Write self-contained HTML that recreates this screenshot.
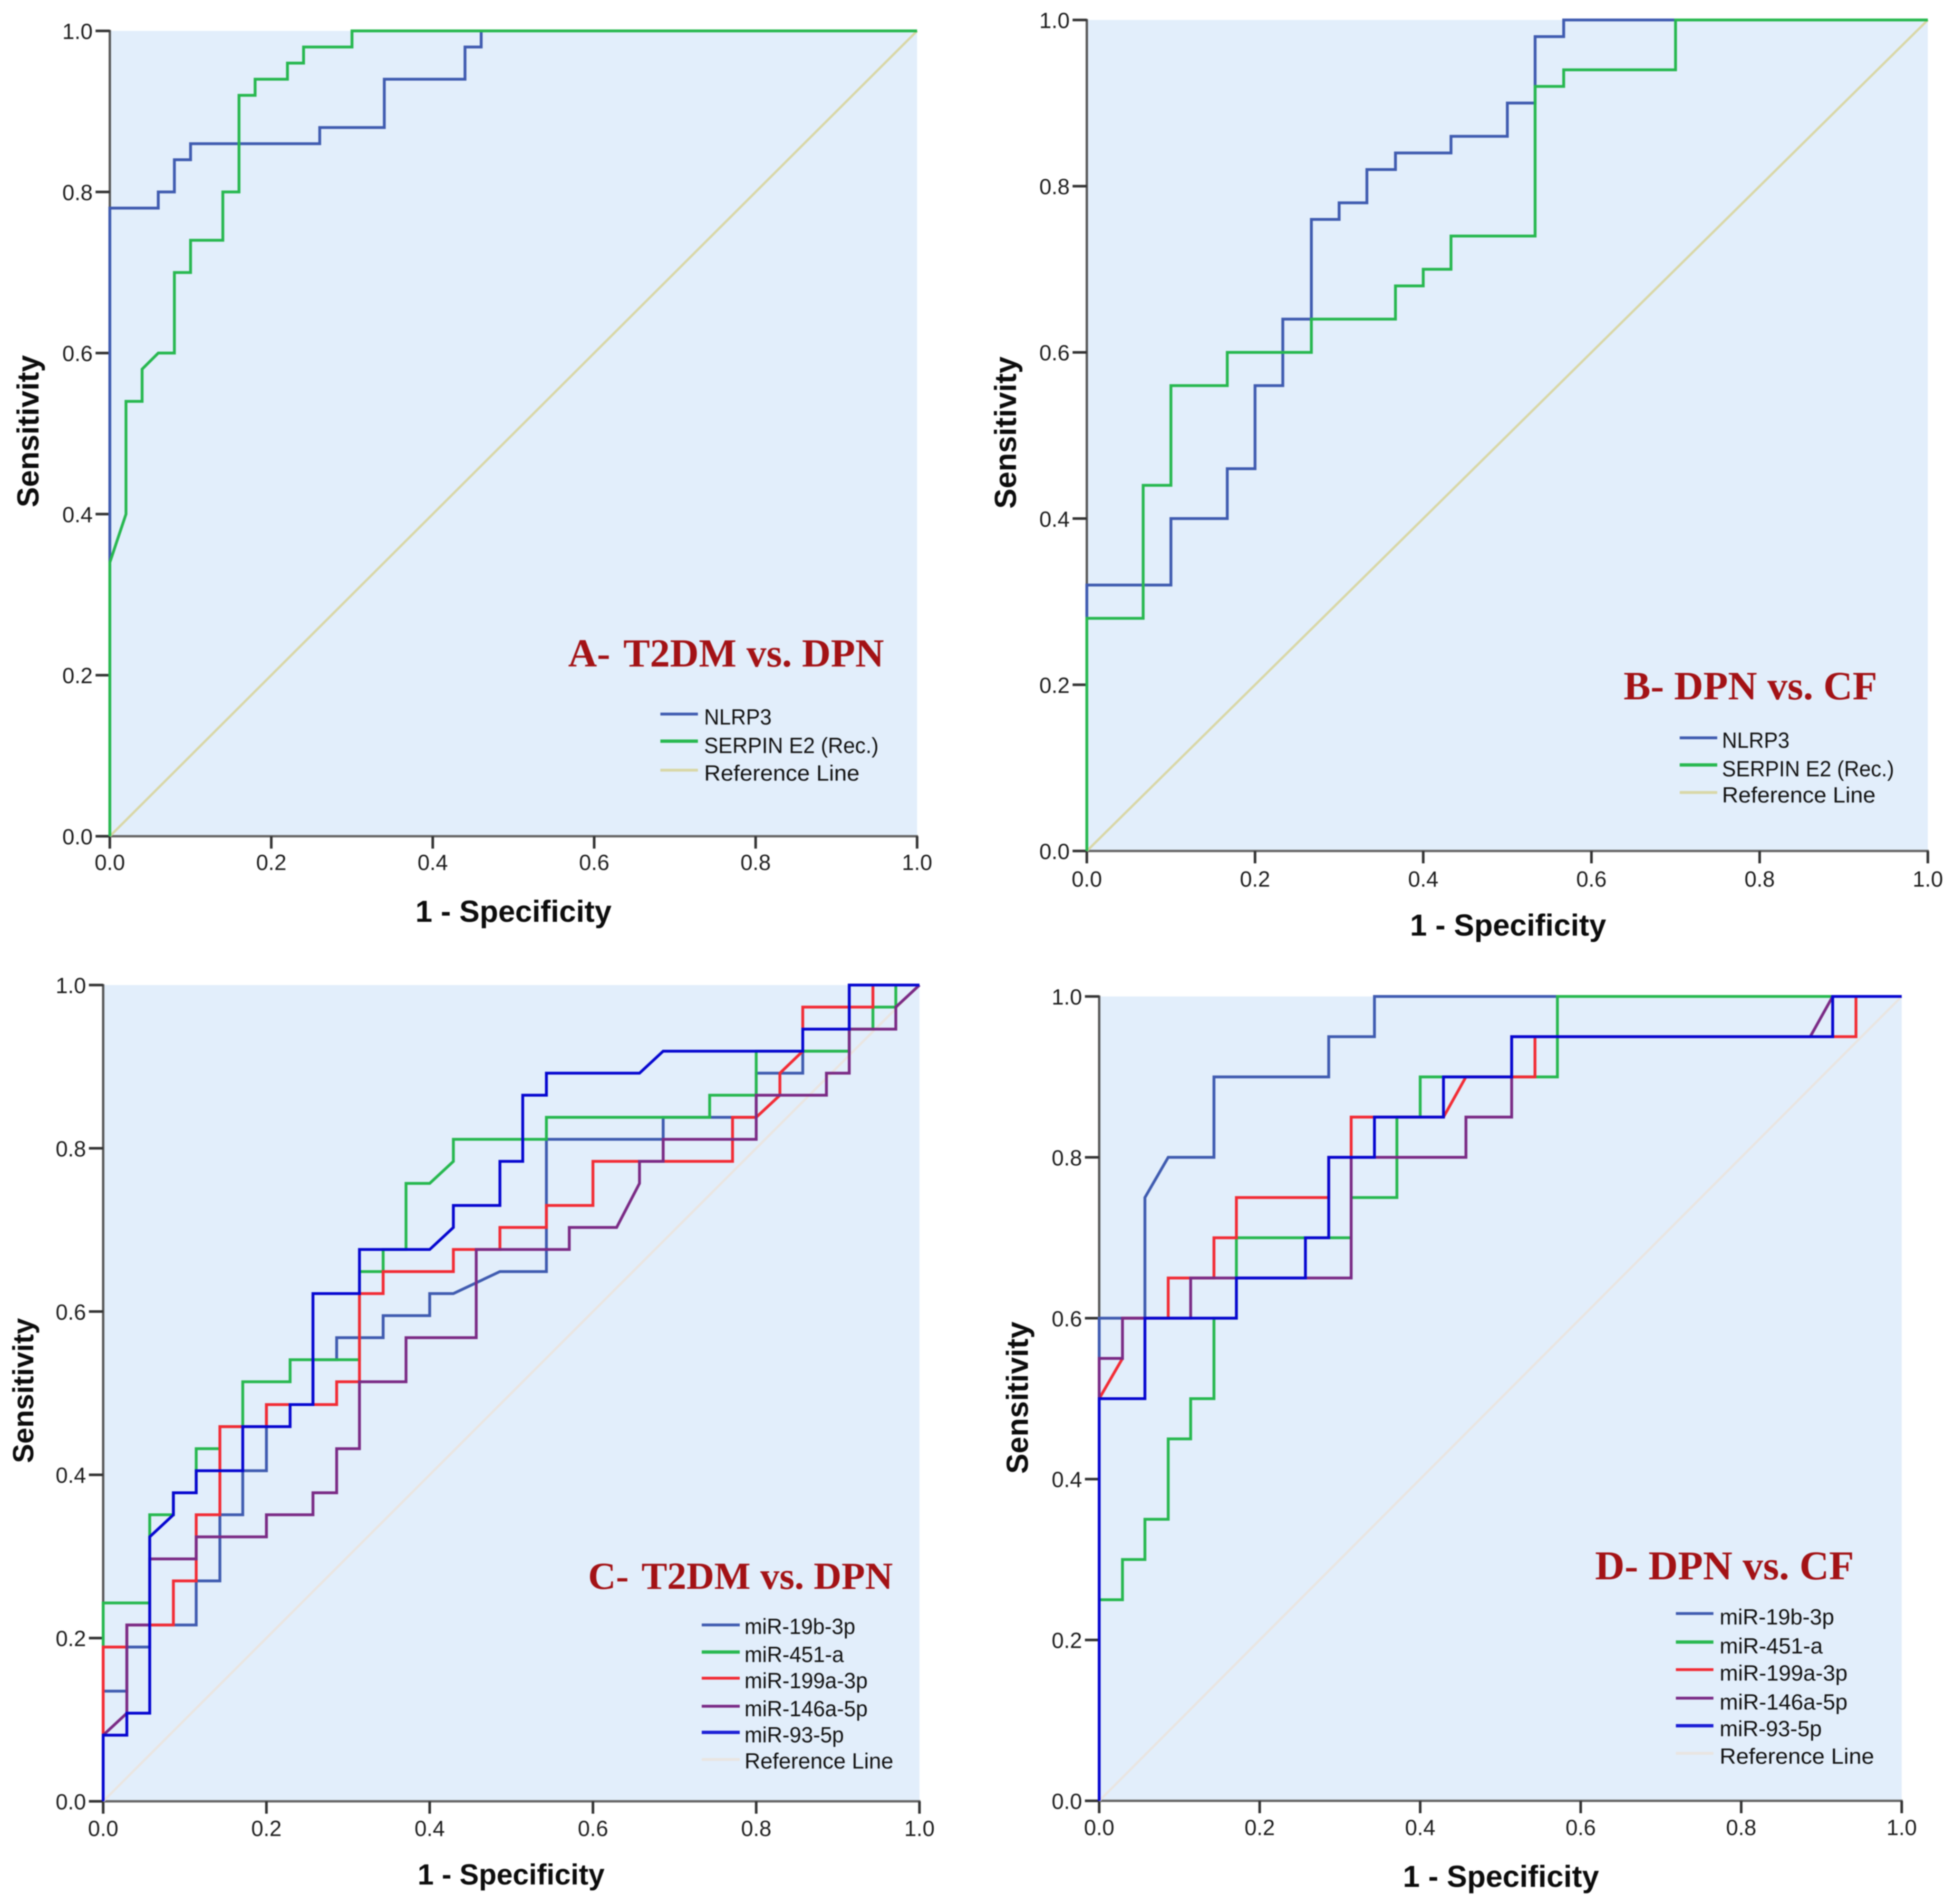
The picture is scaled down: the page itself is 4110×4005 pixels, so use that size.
<!DOCTYPE html>
<html lang="en">
<head>
<meta charset="utf-8">
<title>ROC curves</title>
<style>
html,body{margin:0;padding:0;background:#fff;width:4110px;height:4005px;overflow:hidden}
svg{display:block;filter:blur(1.4px)}
text{font-family:"Liberation Sans",sans-serif;fill:#1c1c1c}
.tick{font-size:46px}
.axt{font-size:64px;font-weight:bold;fill:#0c0c0c}
.leg{font-size:46px;fill:#111}
.ttl{font-family:"Liberation Serif",serif;font-weight:bold;font-size:84px;fill:#a31215;white-space:pre}
</style>
</head>
<body>
<svg id="figure" xmlns="http://www.w3.org/2000/svg" width="4110" height="4005" viewBox="0 0 4110 4005">
  <g id="panel-a">
    <g class="marks"></g>
    <text class="ttl" x="1195" y="1402">A- <tspan dx="8">T2DM vs. DPN</tspan></text>
    <text class="axt" x="1080" y="1939" text-anchor="middle">1 - Specificity</text>
    <text class="axt" transform="translate(81 907) rotate(-90)" text-anchor="middle">Sensitivity</text>
    <g>
      <line x1="1389" x2="1468" y1="1502" y2="1502" stroke="#3f5bb0" stroke-width="6"/>
      <text class="leg" x="1481" y="1524" textLength="142" lengthAdjust="spacingAndGlyphs">NLRP3</text>
      <line x1="1389" x2="1468" y1="1559" y2="1559" stroke="#27b84f" stroke-width="7"/>
      <text class="leg" x="1481" y="1584" textLength="367" lengthAdjust="spacingAndGlyphs">SERPIN E2 (Rec.)</text>
      <line x1="1389" x2="1468" y1="1620" y2="1620" stroke="#d9d7a6" stroke-width="6"/>
      <text class="leg" x="1481" y="1642" textLength="327" lengthAdjust="spacingAndGlyphs">Reference Line</text>
    </g>
  </g>
  <g id="panel-b">
    <g class="marks"></g>
    <text class="ttl" x="3415" y="1471" style="font-size:85px">B- DPN vs. CF</text>
    <text class="axt" x="3172" y="1968" text-anchor="middle">1 - Specificity</text>
    <text class="axt" transform="translate(2137 910) rotate(-90)" text-anchor="middle">Sensitivity</text>
    <g>
      <line x1="3533" x2="3612" y1="1552" y2="1552" stroke="#3f5bb0" stroke-width="6"/>
      <text class="leg" x="3622" y="1573" textLength="142" lengthAdjust="spacingAndGlyphs">NLRP3</text>
      <line x1="3533" x2="3612" y1="1609" y2="1609" stroke="#27b84f" stroke-width="7"/>
      <text class="leg" x="3622" y="1633" textLength="362" lengthAdjust="spacingAndGlyphs">SERPIN E2 (Rec.)</text>
      <line x1="3533" x2="3612" y1="1667" y2="1667" stroke="#d9d7a6" stroke-width="6"/>
      <text class="leg" x="3622" y="1688" textLength="323" lengthAdjust="spacingAndGlyphs">Reference Line</text>
    </g>
  </g>
  <g id="panel-c">
    <g class="marks"></g>
    <text class="ttl" x="1237" y="3342" style="font-size:81px">C- <tspan dx="8">T2DM vs. DPN</tspan></text>
    <text class="axt" x="1075" y="3964" text-anchor="middle" style="font-size:61px">1 - Specificity</text>
    <text class="axt" transform="translate(70 2925) rotate(-90)" text-anchor="middle" style="font-size:61px">Sensitivity</text>
    <g>
      <line x1="1476" x2="1556" y1="3418" y2="3418" stroke="#3f5bb0" stroke-width="6"/>
      <text class="leg" x="1566" y="3437" textLength="233" lengthAdjust="spacingAndGlyphs">miR-19b-3p</text>
      <line x1="1476" x2="1556" y1="3475" y2="3475" stroke="#27b84f" stroke-width="7"/>
      <text class="leg" x="1566" y="3496" textLength="209" lengthAdjust="spacingAndGlyphs">miR-451-a</text>
      <line x1="1476" x2="1556" y1="3530" y2="3530" stroke="#f22b34" stroke-width="6"/>
      <text class="leg" x="1566" y="3551" textLength="259" lengthAdjust="spacingAndGlyphs">miR-199a-3p</text>
      <line x1="1476" x2="1556" y1="3589" y2="3589" stroke="#7a2a85" stroke-width="6"/>
      <text class="leg" x="1566" y="3610" textLength="259" lengthAdjust="spacingAndGlyphs">miR-146a-5p</text>
      <line x1="1476" x2="1556" y1="3644" y2="3644" stroke="#1c1fd6" stroke-width="7"/>
      <text class="leg" x="1566" y="3665" textLength="209" lengthAdjust="spacingAndGlyphs">miR-93-5p</text>
      <line x1="1476" x2="1556" y1="3701" y2="3701" stroke="#e9e5e1" stroke-width="6"/>
      <text class="leg" x="1566" y="3720" textLength="313" lengthAdjust="spacingAndGlyphs">Reference Line</text>
    </g>
  </g>
  <g id="panel-d">
    <g class="marks"></g>
    <text class="ttl" x="3355" y="3322" style="font-size:86px">D- DPN vs. CF</text>
    <text class="axt" x="3157" y="3969" text-anchor="middle">1 - Specificity</text>
    <text class="axt" transform="translate(2162 2940) rotate(-90)" text-anchor="middle">Sensitivity</text>
    <g>
      <line x1="3525" x2="3604" y1="3394" y2="3394" stroke="#3f5bb0" stroke-width="6"/>
      <text class="leg" x="3617" y="3417" textLength="241" lengthAdjust="spacingAndGlyphs">miR-19b-3p</text>
      <line x1="3525" x2="3604" y1="3454" y2="3454" stroke="#27b84f" stroke-width="7"/>
      <text class="leg" x="3617" y="3478" textLength="217" lengthAdjust="spacingAndGlyphs">miR-451-a</text>
      <line x1="3525" x2="3604" y1="3512" y2="3512" stroke="#f22b34" stroke-width="6"/>
      <text class="leg" x="3617" y="3535" textLength="269" lengthAdjust="spacingAndGlyphs">miR-199a-3p</text>
      <line x1="3525" x2="3604" y1="3572" y2="3572" stroke="#7a2a85" stroke-width="6"/>
      <text class="leg" x="3617" y="3596" textLength="269" lengthAdjust="spacingAndGlyphs">miR-146a-5p</text>
      <line x1="3525" x2="3604" y1="3630" y2="3630" stroke="#1c1fd6" stroke-width="7"/>
      <text class="leg" x="3617" y="3652" textLength="215" lengthAdjust="spacingAndGlyphs">miR-93-5p</text>
      <line x1="3525" x2="3604" y1="3688" y2="3688" stroke="#e9e5e1" stroke-width="6"/>
      <text class="leg" x="3617" y="3710" textLength="325" lengthAdjust="spacingAndGlyphs">Reference Line</text>
    </g>
  </g>
</svg>
<script>
// Shared axis tick values and labels
const tickValues = [0, 0.2, 0.4, 0.6, 0.8, 1];
const tickLabels = ["0.0", "0.2", "0.4", "0.6", "0.8", "1.0"];
const referenceX = [0, 1];
const referenceY = [0, 1];

// Panel A
const aNlrp3X = [0,0,0.06,0.06,0.08,0.08,0.10,0.10,0.26,0.26,0.34,0.34,0.44,0.44,0.46,0.46,1];
const aNlrp3Y = [0,0.78,0.78,0.80,0.80,0.84,0.84,0.86,0.86,0.88,0.88,0.94,0.94,0.98,0.98,1,1];
const aSerpinX = [0,0,0.02,0.02,0.04,0.04,0.06,0.08,0.08,0.10,0.10,0.14,0.14,0.16,0.16,0.18,0.18,0.22,0.22,0.24,0.24,0.30,0.30,1];
const aSerpinY = [0,0.34,0.40,0.54,0.54,0.58,0.60,0.60,0.70,0.70,0.74,0.74,0.80,0.80,0.92,0.92,0.94,0.94,0.96,0.96,0.98,0.98,1,1];

// Panel B
const bNlrp3X = [0,0,0.1,0.1,0.167,0.167,0.2,0.2,0.233,0.233,0.267,0.267,0.3,0.3,0.333,0.333,0.367,0.367,0.433,0.433,0.5,0.5,0.533,0.533,0.567,0.567,1];
const bNlrp3Y = [0,0.32,0.32,0.40,0.40,0.46,0.46,0.56,0.56,0.64,0.64,0.76,0.76,0.78,0.78,0.82,0.82,0.84,0.84,0.86,0.86,0.90,0.90,0.98,0.98,1,1];
const bSerpinX = [0,0,0.067,0.067,0.1,0.1,0.167,0.167,0.267,0.267,0.367,0.367,0.4,0.4,0.433,0.433,0.533,0.533,0.567,0.567,0.7,0.7,1];
const bSerpinY = [0,0.28,0.28,0.44,0.44,0.56,0.56,0.60,0.60,0.64,0.64,0.68,0.68,0.70,0.70,0.74,0.74,0.92,0.92,0.94,0.94,1,1];

// Panel C
const cMir19bX = [0,0,0.029,0.029,0.057,0.057,0.114,0.114,0.143,0.143,0.171,0.171,0.2,0.2,0.257,0.257,0.286,0.286,0.343,0.343,0.4,0.4,0.429,0.486,0.543,0.543,0.686,0.686,0.8,0.8,0.857,0.857,0.914,0.914,1];
const cMir19bY = [0,0.135,0.135,0.189,0.189,0.216,0.216,0.27,0.27,0.351,0.351,0.405,0.405,0.486,0.486,0.541,0.541,0.568,0.568,0.595,0.595,0.622,0.622,0.649,0.649,0.811,0.811,0.838,0.838,0.892,0.892,0.919,0.919,1,1];
const cMir451X = [0,0,0.057,0.057,0.086,0.086,0.114,0.114,0.143,0.143,0.171,0.171,0.229,0.229,0.314,0.314,0.343,0.343,0.371,0.371,0.4,0.429,0.429,0.543,0.543,0.743,0.743,0.8,0.8,0.914,0.914,0.943,0.943,0.971,0.971,1];
const cMir451Y = [0,0.243,0.243,0.351,0.351,0.378,0.378,0.432,0.432,0.459,0.459,0.514,0.514,0.541,0.541,0.649,0.649,0.676,0.676,0.757,0.757,0.784,0.811,0.811,0.838,0.838,0.865,0.865,0.919,0.919,0.946,0.946,0.973,0.973,1,1];
const cMir199X = [0,0,0.029,0.029,0.086,0.086,0.114,0.114,0.143,0.143,0.2,0.2,0.286,0.286,0.314,0.314,0.343,0.343,0.429,0.429,0.486,0.486,0.543,0.543,0.6,0.6,0.771,0.771,0.8,0.829,0.829,0.857,0.857,0.943,0.943,1];
const cMir199Y = [0,0.189,0.189,0.216,0.216,0.27,0.27,0.351,0.351,0.459,0.459,0.486,0.486,0.514,0.514,0.622,0.622,0.649,0.649,0.676,0.676,0.703,0.703,0.73,0.73,0.784,0.784,0.838,0.838,0.865,0.892,0.919,0.973,0.973,1,1];
const cMir146X = [0,0,0.029,0.029,0.057,0.057,0.114,0.114,0.2,0.2,0.257,0.257,0.286,0.286,0.314,0.314,0.371,0.371,0.457,0.457,0.571,0.571,0.629,0.657,0.657,0.686,0.686,0.8,0.8,0.886,0.886,0.914,0.914,0.971,0.971,1];
const cMir146Y = [0,0.081,0.108,0.216,0.216,0.297,0.297,0.324,0.324,0.351,0.351,0.378,0.378,0.432,0.432,0.514,0.514,0.568,0.568,0.676,0.676,0.703,0.703,0.757,0.784,0.784,0.811,0.811,0.865,0.865,0.892,0.892,0.946,0.946,0.973,1];
const cMir93X = [0,0,0.029,0.029,0.057,0.057,0.086,0.086,0.114,0.114,0.171,0.171,0.229,0.229,0.257,0.257,0.314,0.314,0.4,0.429,0.429,0.486,0.486,0.514,0.514,0.543,0.543,0.657,0.686,0.857,0.857,0.914,0.914,1];
const cMir93Y = [0,0.081,0.081,0.108,0.108,0.324,0.351,0.378,0.378,0.405,0.405,0.459,0.459,0.486,0.486,0.622,0.622,0.676,0.676,0.703,0.73,0.73,0.784,0.784,0.865,0.865,0.892,0.892,0.919,0.919,0.946,0.946,1,1];

// Panel D
const dMir19bX = [0,0,0.057,0.057,0.086,0.143,0.143,0.286,0.286,0.343,0.343,1];
const dMir19bY = [0,0.6,0.6,0.75,0.8,0.8,0.9,0.9,0.95,0.95,1,1];
const dMir451X = [0,0,0.029,0.029,0.057,0.057,0.086,0.086,0.114,0.114,0.143,0.143,0.171,0.171,0.314,0.314,0.371,0.371,0.4,0.4,0.571,0.571,1];
const dMir451Y = [0,0.25,0.25,0.3,0.3,0.35,0.35,0.45,0.45,0.5,0.5,0.6,0.6,0.7,0.7,0.75,0.75,0.85,0.85,0.9,0.9,1,1];
const dMir199X = [0,0,0.029,0.029,0.086,0.086,0.143,0.143,0.171,0.171,0.286,0.286,0.314,0.314,0.429,0.457,0.543,0.543,0.943,0.943,1];
const dMir199Y = [0,0.5,0.55,0.6,0.6,0.65,0.65,0.7,0.7,0.75,0.75,0.8,0.8,0.85,0.85,0.9,0.9,0.95,0.95,1,1];
const dMir146X = [0,0,0.029,0.029,0.114,0.114,0.314,0.314,0.457,0.457,0.514,0.514,0.886,0.914,1];
const dMir146Y = [0,0.55,0.55,0.6,0.6,0.65,0.65,0.8,0.8,0.85,0.85,0.95,0.95,1,1];
const dMir93X = [0,0,0.057,0.057,0.171,0.171,0.257,0.257,0.286,0.286,0.343,0.343,0.429,0.429,0.514,0.514,0.914,0.914,1];
const dMir93Y = [0,0.5,0.5,0.6,0.6,0.65,0.65,0.7,0.7,0.8,0.8,0.85,0.85,0.9,0.9,0.95,0.95,1,1];

const NS = 'http://www.w3.org/2000/svg';
const BLUE = '#3f5bb0', GREEN = '#27b84f', RED = '#f22b34', PURPLE = '#7a2a85', DEEP = '#0606d0';

function make(parent, tag, attrs) {
  const el = document.createElementNS(NS, tag);
  for (const k in attrs) el.setAttribute(k, attrs[k]);
  parent.appendChild(el);
  return el;
}

function drawPanel(id, box, refColor, series) {
  const root = document.querySelector('#' + id + ' .marks');
  const xScale = v => box.x0 + v * (box.x1 - box.x0);
  const yScale = v => box.y0 + (1 - v) * (box.y1 - box.y0);

  const bg = make(root, 'rect', {x: box.x0, y: box.y0, width: box.x1 - box.x0, height: box.y1 - box.y0, fill: '#e2eefb'});
  
  

  const yAxis = make(root, 'line', {x1: box.x0, x2: box.x0, y1: box.y0 - 2, y2: box.y1 + 2, stroke: '#585858', 'stroke-width': 5});
  
  
  const xAxis = make(root, 'line', {x1: box.x0 - 2, x2: box.x1 + 2, y1: box.y1, y2: box.y1, stroke: '#666', 'stroke-width': 5});
  
  

  tickValues.forEach((v, i) => {
    const tx = make(root, 'line', {x1: xScale(v), x2: xScale(v), y1: box.y1, y2: box.y1 + 26, stroke: '#333', 'stroke-width': 5.5});
    
    
    const ty = make(root, 'line', {x1: box.x0 - 30, x2: box.x0, y1: yScale(v), y2: yScale(v), stroke: '#333', 'stroke-width': 5.5});
    
    
    const lx = make(root, 'text', {x: xScale(v), y: box.y1 + box.xLabelGap, 'text-anchor': 'middle', class: 'tick'});
    lx.textContent = tickLabels[i];
    
    
    const ly = make(root, 'text', {x: box.x0 - 36, y: yScale(v) + 17, 'text-anchor': 'end', class: 'tick'});
    ly.textContent = tickLabels[i];
    
    
  });

  const ref = make(root, 'line', {x1: xScale(referenceX[0]), y1: yScale(referenceY[0]), x2: xScale(referenceX[1]), y2: yScale(referenceY[1]), stroke: refColor, 'stroke-width': 5});
  
  

  series.forEach(s => {
    const pts = s.x.map((v, i) => xScale(v).toFixed(1) + ',' + yScale(s.y[i]).toFixed(1)).join(' ');
    const line = make(root, 'polyline', {points: pts, fill: 'none', stroke: s.color, 'stroke-width': s.width || 6, 'stroke-linejoin': 'miter'});
    
    
  });
}

drawPanel('panel-a', {x0: 231, x1: 1929, y0: 65, y1: 1759, xLabelGap: 71}, '#d9d7a6', [
  {name: 'nlrp3-curve', color: BLUE, x: aNlrp3X, y: aNlrp3Y},
  {name: 'serpin-e2-curve', color: GREEN, x: aSerpinX, y: aSerpinY}
]);
drawPanel('panel-b', {x0: 2286, x1: 4055, y0: 42, y1: 1790, xLabelGap: 75}, '#d9d7a6', [
  {name: 'nlrp3-curve', color: BLUE, x: bNlrp3X, y: bNlrp3Y},
  {name: 'serpin-e2-curve', color: GREEN, x: bSerpinX, y: bSerpinY}
]);
drawPanel('panel-c', {x0: 217, x1: 1934, y0: 2072, y1: 3789, xLabelGap: 73}, '#e9e5e1', [
  {name: 'mir-19b-3p-curve', color: BLUE, x: cMir19bX, y: cMir19bY},
  {name: 'mir-451-a-curve', color: GREEN, x: cMir451X, y: cMir451Y},
  {name: 'mir-199a-3p-curve', color: RED, x: cMir199X, y: cMir199Y},
  {name: 'mir-146a-5p-curve', color: PURPLE, x: cMir146X, y: cMir146Y},
  {name: 'mir-93-5p-curve', color: DEEP, x: cMir93X, y: cMir93Y}
]);
drawPanel('panel-d', {x0: 2312, x1: 4000, y0: 2096, y1: 3788, xLabelGap: 72}, '#e9e5e1', [
  {name: 'mir-19b-3p-curve', color: BLUE, x: dMir19bX, y: dMir19bY},
  {name: 'mir-451-a-curve', color: GREEN, x: dMir451X, y: dMir451Y},
  {name: 'mir-199a-3p-curve', color: RED, x: dMir199X, y: dMir199Y},
  {name: 'mir-146a-5p-curve', color: PURPLE, x: dMir146X, y: dMir146Y},
  {name: 'mir-93-5p-curve', color: DEEP, x: dMir93X, y: dMir93Y}
]);
</script>
</body>
</html>
